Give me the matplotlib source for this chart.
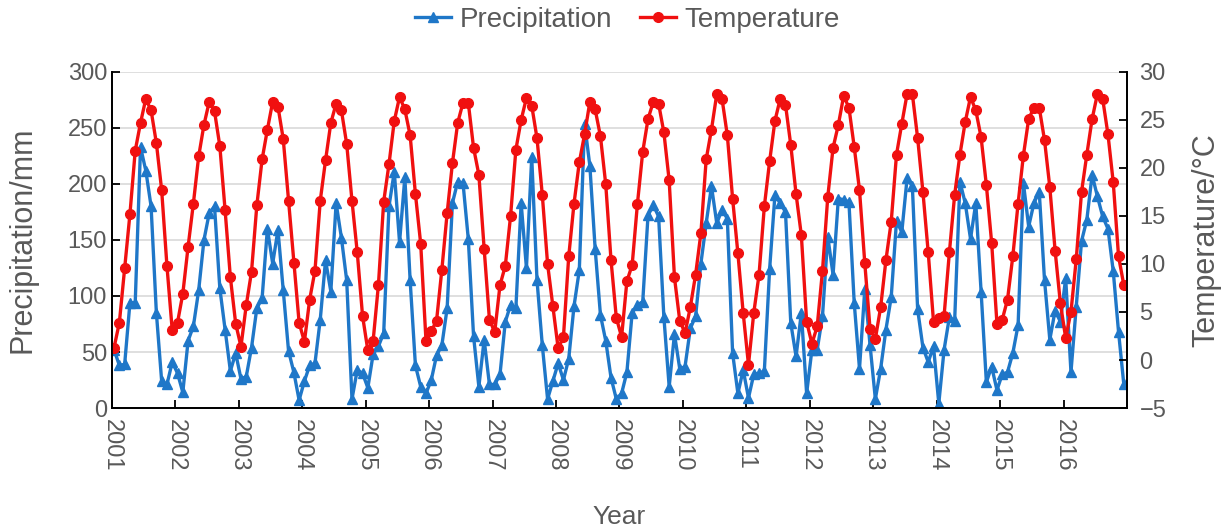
import numpy as np
import matplotlib.pyplot as plt

plt.rcParams['font.family'] = ['Liberation Sans', 'DejaVu Sans']

years = list(range(2001, 2017))

# monthly precipitation (mm), Jan 2001 - Dec 2016
precip = [
    52, 38, 39, 94, 94, 233, 212, 180, 85, 24, 21, 41,
    31, 14, 60, 73, 105, 150, 174, 180, 107, 70, 33, 49,
    26, 28, 54, 89, 98, 160, 129, 159, 105, 51, 32, 7,
    24, 38, 40, 79, 132, 104, 183, 152, 114, 8, 34, 31,
    18, 48, 55, 67, 180, 211, 148, 206, 114, 38, 19, 13,
    25, 47, 56, 89, 183, 202, 201, 151, 64, 19, 61, 21,
    21, 30, 77, 92, 89, 183, 125, 224, 114, 56, 8, 24,
    40, 25, 44, 91, 123, 254, 216, 142, 83, 60, 27, 8,
    13, 32, 85, 92, 95, 172, 181, 171, 81, 19, 66, 35,
    37, 71, 82, 129, 165, 198, 165, 177, 169, 49, 13, 34,
    9, 30, 31, 33, 124, 190, 183, 175, 76, 46, 85, 13,
    52, 52, 82, 153, 119, 187, 186, 184, 94, 35, 106, 56,
    8, 35, 70, 99, 167, 157, 205, 198, 88, 54, 41, 55,
    4, 52, 81, 78, 202, 183, 151, 183, 104, 23, 37, 16,
    30, 32, 49, 74, 201, 162, 183, 193, 114, 61, 87, 77,
    116, 32, 90, 149, 168, 208, 189, 171, 160, 122, 68, 21,
]

# monthly mean temperature (°C)
temp = [
    1.3, 3.9, 9.6, 15.2, 21.8, 24.7, 27.2, 26.0, 22.6, 17.7, 9.8, 3.1,
    3.9, 6.9, 11.8, 16.3, 21.2, 24.5, 26.9, 25.9, 22.3, 15.6, 8.6, 3.8,
    1.4, 5.7, 9.2, 16.1, 20.9, 24.0, 26.9, 26.4, 23.0, 16.6, 10.1, 3.9,
    1.9, 6.3, 9.3, 16.6, 20.8, 24.7, 26.7, 26.0, 22.5, 16.6, 11.2, 4.6,
    1.0, 2.0, 7.8, 16.5, 20.4, 24.9, 27.4, 26.1, 23.4, 17.3, 12.1, 2.0,
    3.0, 4.1, 9.4, 15.3, 20.5, 24.7, 26.8, 26.8, 22.1, 19.3, 11.6, 4.2,
    2.9, 7.8, 9.8, 15.0, 21.9, 25.0, 27.3, 26.5, 23.1, 17.2, 10.0, 5.6,
    1.2, 2.4, 10.8, 16.3, 20.6, 23.5, 26.9, 26.1, 23.3, 18.3, 10.4, 4.4,
    2.4, 8.2, 9.9, 16.3, 21.7, 25.1, 26.9, 26.7, 23.7, 18.7, 8.6, 4.1,
    2.8, 5.5, 8.9, 13.2, 20.9, 24.0, 27.7, 27.2, 23.4, 16.8, 11.1, 4.9,
    -0.5, 4.9, 8.9, 16.0, 20.7, 24.9, 27.2, 26.6, 22.4, 17.3, 13.0, 4.0,
    1.7, 3.5, 9.3, 17.0, 22.1, 24.5, 27.5, 26.3, 22.2, 17.7, 10.1, 3.2,
    2.2, 5.5, 10.4, 14.4, 21.4, 24.6, 27.7, 27.7, 23.1, 17.5, 11.2, 4.0,
    4.4, 4.6, 11.2, 17.2, 21.4, 24.8, 27.4, 26.0, 23.2, 18.2, 12.2, 3.8,
    4.2, 6.3, 10.8, 16.3, 21.3, 25.1, 26.3, 26.3, 22.9, 18.0, 11.4, 5.9,
    2.3, 5.0, 10.5, 17.5, 21.4, 25.1, 27.7, 27.2, 23.5, 18.5, 10.8, 7.8,
]

blue = '#1f77c8'
red = '#f01010'
grey = '#595959'

x = np.arange(len(precip)) + 0.4

fig = plt.figure(figsize=(12.25, 5.27), dpi=100)
ax = fig.add_axes([0.0914, 0.2258, 0.8286, 0.6376])
ax2 = ax.twinx()

l1, = ax.plot(x, precip, color=blue, lw=2.4, marker='^', ms=7, label='Precipitation')
l2, = ax2.plot(x, temp, color=red, lw=2.4, marker='o', ms=7, label='Temperature')

ax.set_xlim(0, 192)
ax.set_ylim(0, 300)
ax.set_yticks(range(0, 301, 50))
ax2.set_ylim(-5, 30)
ax2.set_yticks(range(-5, 31, 5))
ax.set_xticks([12 * i for i in range(len(years))])
ax.set_xticklabels([str(y) for y in years], rotation=-90)

ax.grid(axis='y', color='#d9d9d9', lw=1.2)
ax.set_axisbelow(True)
for a in (ax, ax2):
    a.spines['top'].set_visible(False)
    for s in ('left', 'right', 'bottom'):
        a.spines[s].set_color('black')
        a.spines[s].set_linewidth(1.3)
    a.tick_params(direction='in', length=6, width=1.3, labelsize=17, labelcolor=grey)
ax.tick_params(axis='x', pad=8)
ax2.tick_params(axis='y', pad=9)

ax.set_ylabel('Precipitation/mm', fontsize=22, color=grey, labelpad=22)
ax2.set_ylabel('Temperature/°C', fontsize=22, color=grey, labelpad=18)
ax.set_xlabel('Year', fontsize=19, color=grey, labelpad=24)

fig.legend([l1, l2], ['Precipitation', 'Temperature'], loc='center',
           bbox_to_anchor=(0.512, 0.962), ncol=2, frameon=False, fontsize=20,
           labelcolor=grey, handlelength=1.3, columnspacing=1.0, handletextpad=0.3)

fig.savefig('out.png', dpi=100)
